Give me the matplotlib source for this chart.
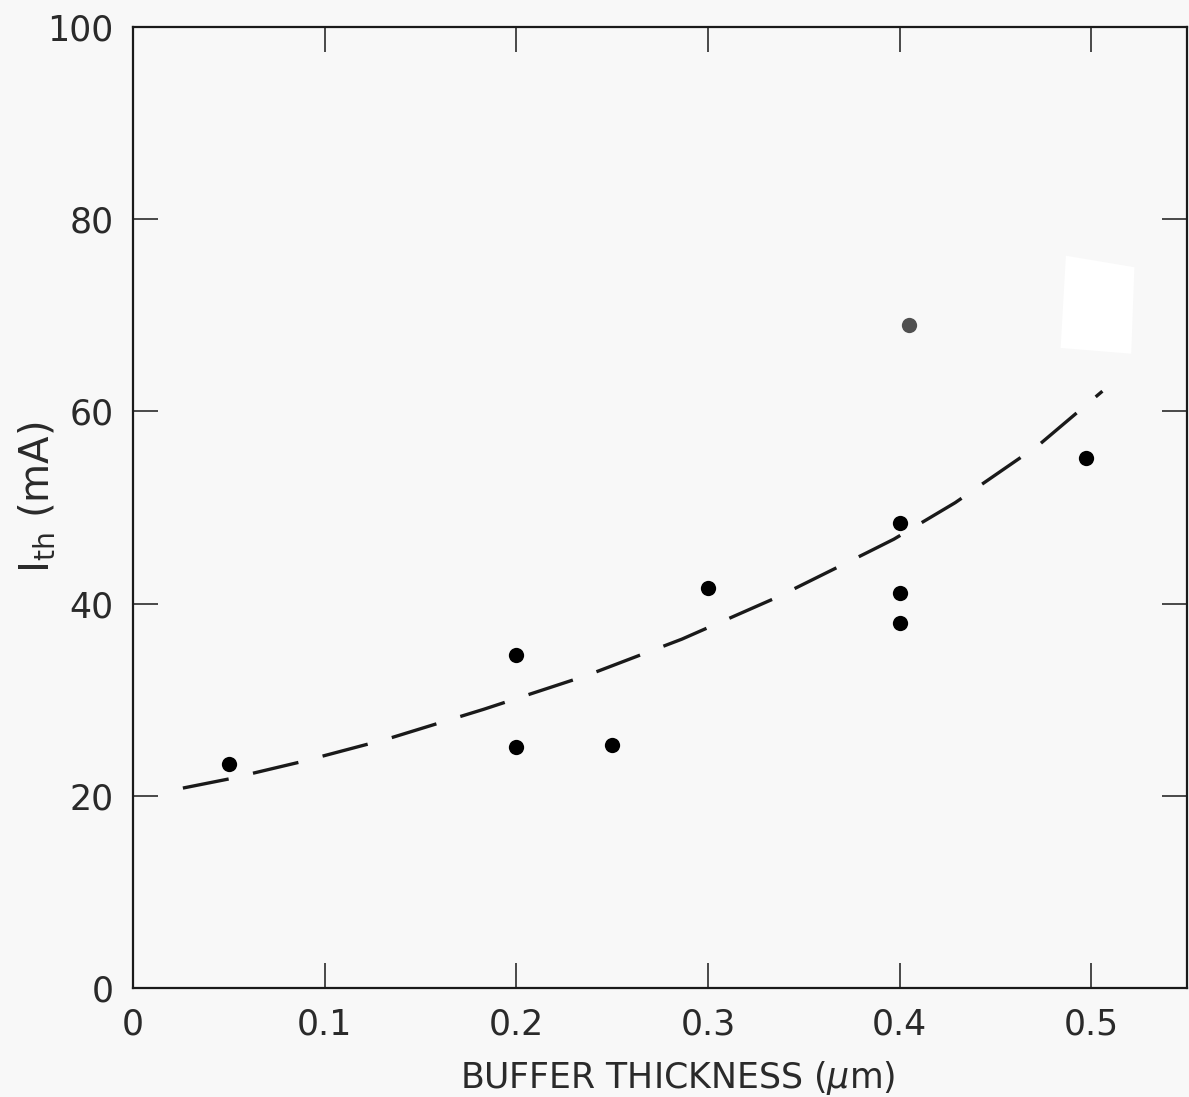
import matplotlib
matplotlib.use("Agg")
import matplotlib.pyplot as plt
from matplotlib.patches import Polygon

# measured points (buffer thickness in um, threshold current in mA)
x_pts = [0.05, 0.2, 0.2, 0.25, 0.3, 0.4, 0.4, 0.4, 0.497]
y_pts = [23.3, 34.6, 25.1, 25.3, 41.6, 48.4, 41.1, 38.0, 55.2]

# outlier drawn in grey
x_grey = [0.405]
y_grey = [69.0]

# dashed trend curve
x_curve = [0.026, 0.05, 0.088, 0.1325, 0.183, 0.2365, 0.2864, 0.336,
           0.383, 0.397, 0.429, 0.4726, 0.5058]
y_curve = [20.8, 21.75, 23.55, 25.9, 29.0, 32.5, 36.3, 40.65,
           45.3, 46.7, 50.5, 56.5, 62.1]

x_ticks = [0, 0.1, 0.2, 0.3, 0.4, 0.5]
x_labels = ["0", "0.1", "0.2", "0.3", "0.4", "0.5"]
y_ticks = [0, 20, 40, 60, 80, 100]

bg = "#f8f8f8"
ink = "#1a1a1a"
txt = "#2a2a2a"

fig = plt.figure(figsize=(11.89, 10.97), dpi=100, facecolor=bg)
ax = fig.add_axes([0.1119, 0.0994, 0.8865, 0.876])
ax.set_facecolor(bg)

ax.plot(x_curve, y_curve, color=ink, lw=2.4, dashes=(14, 7.5),
        solid_capstyle="butt", dash_capstyle="butt")
ax.plot(x_pts, y_pts, "o", color="black", ms=11, mec="none")
ax.plot(x_grey, y_grey, "o", color="#505050", ms=11, mec="none")

# white paper patch on the scan
ax.add_patch(Polygon([[0.885, 0.762], [0.95, 0.75], [0.947, 0.66], [0.88, 0.666]],
                     closed=True, transform=ax.transAxes, facecolor="white",
                     edgecolor="none", zorder=0))

ax.set_xlim(0, 0.55)
ax.set_ylim(0, 100)
ax.set_xticks(x_ticks)
ax.set_xticklabels(x_labels)
ax.set_yticks(y_ticks)

for s in ax.spines.values():
    s.set_linewidth(1.6)
    s.set_color(ink)

ax.tick_params(direction="in", length=18, width=1.1, color=ink,
               top=True, right=True, labelsize=25, pad=14, labelcolor=txt)

ax.set_xlabel("BUFFER THICKNESS ($\\mu$m)", fontsize=25, color=txt, va="center")
ax.xaxis.set_label_coords(0.517, -0.0936)
ax.set_ylabel("$\\mathrm{I_{th}}$ (mA)", fontsize=29, color=txt, va="center")
ax.yaxis.set_label_coords(-0.091, 0.511)

fig.savefig("out.png", dpi=100, facecolor=bg)
